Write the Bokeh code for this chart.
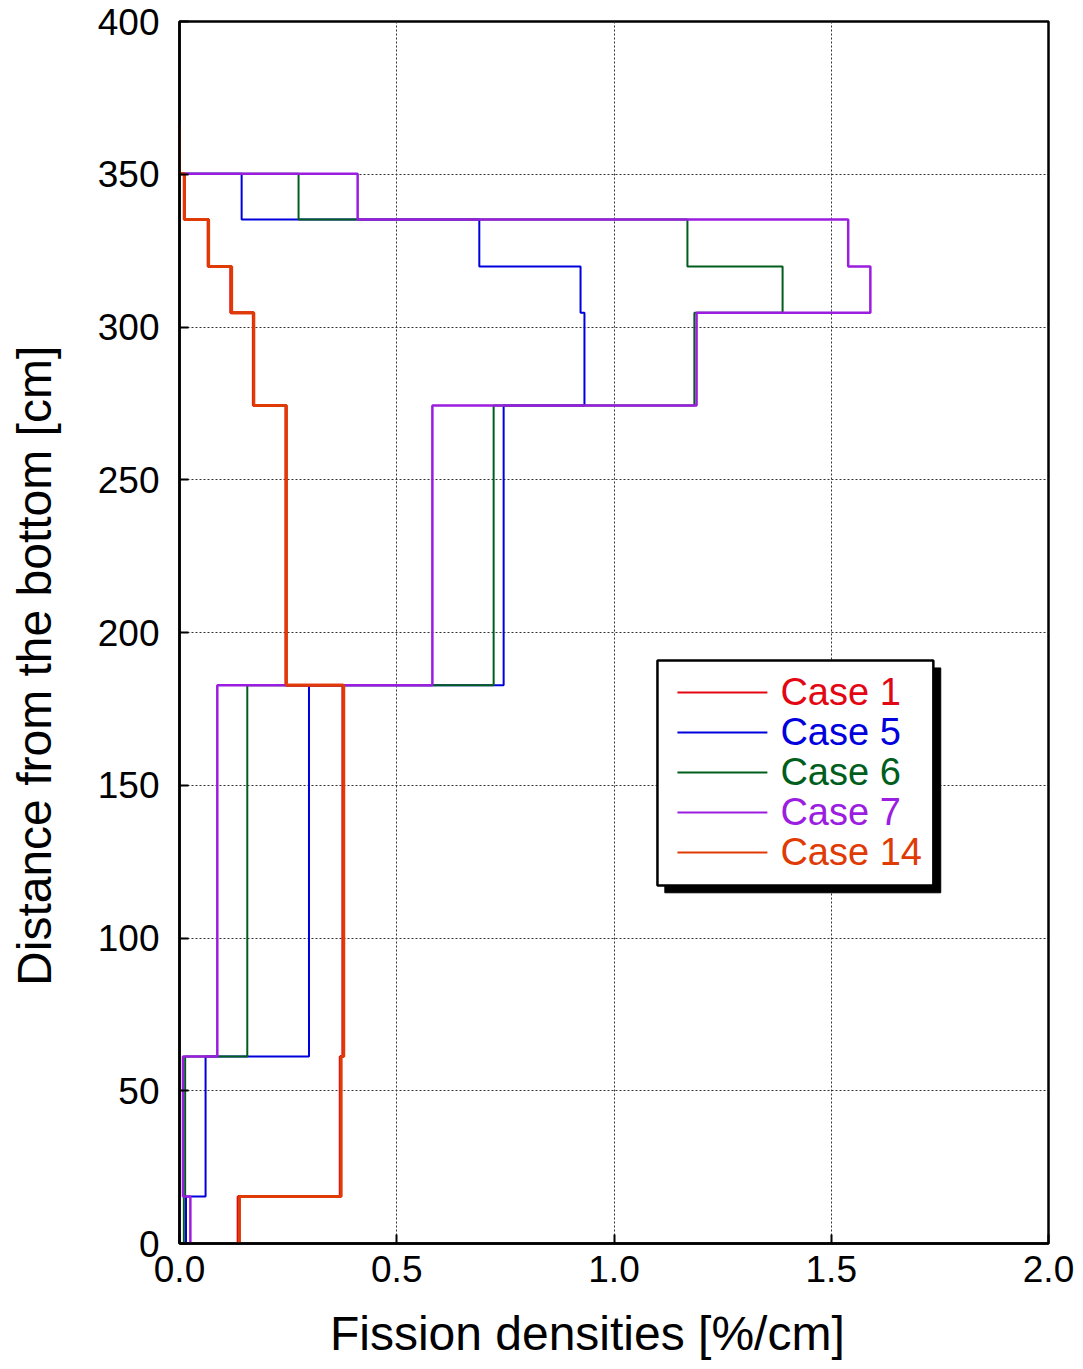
from bokeh.plotting import figure
from bokeh.models import Range1d, FixedTicker
from bokeh.core.properties import value
from bokeh.embed import file_html
from bokeh.resources import INLINE

# Axial zone boundaries [cm]
bounds = [0, 15.4, 61.2, 182.7, 274.3, 304.7, 319.8, 335.2, 350.2, 366.0]

# Fission density per zone [%/cm], bottom to top
case1 = [0.135, 0.370, 0.376, 0.245, 0.170, 0.118, 0.066, 0.011, 0.0]
case5 = [0.015, 0.060, 0.298, 0.746, 0.932, 0.923, 0.690, 0.143, 0.0]
case6 = [0.010, 0.013, 0.156, 0.723, 1.185, 1.388, 1.169, 0.274, 0.0]
case7 = [0.025, 0.008, 0.087, 0.582, 1.190, 1.590, 1.539, 0.410, 0.0]
case14 = [0.138, 0.372, 0.378, 0.246, 0.171, 0.120, 0.067, 0.0115, 0.0]

names = ["Case 1", "Case 5", "Case 6", "Case 7", "Case 14"]
series = [case1, case5, case6, case7, case14]
colors = ["#e30613", "#0000dd", "#005e1c", "#9b1ddf", "#e03a05"]
widths = [3, 2, 2, 2.5, 3]

x_ticks = [0.0, 0.5, 1.0, 1.5, 2.0]
y_ticks = [0, 50, 100, 150, 200, 250, 300, 350, 400]

FONT = "Liberation Sans"
NBSP = "\u00a0"

p = figure(width=1083, height=1369, output_backend="svg", toolbar_location=None,
           x_range=Range1d(0, 2.0), y_range=Range1d(0, 400),
           min_border_left=179, min_border_right=35,
           min_border_top=21, min_border_bottom=126)
p.background_fill_color = "white"
p.border_fill_color = "white"
p.outline_line_color = "black"
p.outline_line_width = 2.5

for ax in (p.xaxis, p.yaxis):
    ax.major_tick_in = 9
    ax.major_tick_out = 0
    ax.minor_tick_line_color = None
    ax.axis_line_width = 2.5
    ax.major_tick_line_width = 2
    ax.major_label_text_font = FONT
    ax.major_label_text_font_size = "37px"
    ax.major_label_text_color = "black"
    ax.axis_label_text_font = FONT
    ax.axis_label_text_font_size = "48px"
    ax.axis_label_text_font_style = "normal"
    ax.axis_label_text_color = "black"

p.xaxis.ticker = FixedTicker(ticks=x_ticks)
p.yaxis.ticker = FixedTicker(ticks=y_ticks)
p.xaxis.major_label_overrides = {t: f"{t:.1f}" for t in x_ticks}
p.xaxis.major_label_standoff = 12
p.yaxis.major_label_standoff = 20
# titles sit a little toward the lower-left of the frame centre
p.xaxis.axis_label = "Fission densities [%/cm]" + NBSP * 4
p.yaxis.axis_label = "Distance from the bottom [cm]" + NBSP * 5
p.xaxis.axis_label_standoff = 22
p.yaxis.axis_label_standoff = 34

for g in (p.xgrid, p.ygrid):
    g.grid_line_color = "#333333"
    g.grid_line_dash = "2 2"
    g.grid_line_width = 1

# Stepped profiles: each zone is a vertical segment at its value
def profile(vals):
    xs, ys = [], []
    for i, v in enumerate(vals):
        xs += [v, v]
        ys += [bounds[i], bounds[i + 1]]
    return xs, ys

for name, vals, col, w in zip(names, series, colors, widths):
    xs, ys = profile(vals)
    p.line(xs, ys, line_color=col, line_width=w)

# Legend box with drop shadow (data coordinates)
lx0, lx1, ly0, ly1 = 1.100, 1.735, 117.2, 190.8
sdx, sdy = 0.017, -2.4
p.quad(left=[lx0 + sdx], right=[lx1 + sdx], bottom=[ly0 + sdy], top=[ly1 + sdy],
       fill_color="black", line_color="black")
p.quad(left=[lx0], right=[lx1], bottom=[ly0], top=[ly1],
       fill_color="white", line_color="black", line_width=2.5)

entry_y = [180.4, 167.3, 154.2, 141.1, 128.0]
for name, col, yy in zip(names, colors, entry_y):
    p.line([1.146, 1.353], [yy, yy], line_color=col, line_width=2)
    p.text(x=[1.383], y=[yy], text=[name], text_color=col,
           text_font=value(FONT), text_font_size="38px",
           text_baseline="middle", text_align="left")

open("out.html", "w").write(file_html(p, INLINE))
